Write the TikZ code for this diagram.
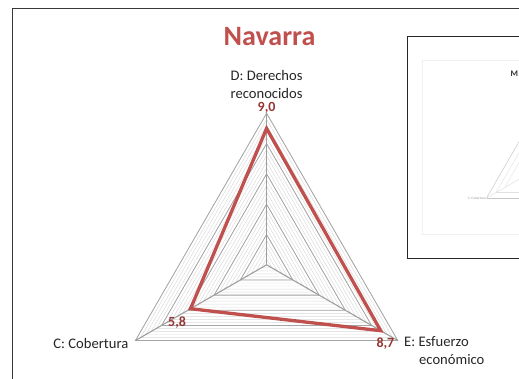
\documentclass[tikz,border=0pt]{standalone}
\usepackage{fontspec}
\setmainfont{Carlito}
\begin{document}
\begin{tikzpicture}[x=1pt,y=-1pt,
  minorgrid/.style={draw=black!15,line width=0.45pt},
  majorgrid/.style={draw=black!35,line width=0.8pt},
  spoke/.style={draw=black!38,line width=1.1pt},
  series/.style={draw=serred,line width=3.3pt,line join=miter},
  axlabel/.style={font=\fontsize{14.6}{18}\selectfont,text=txt,inner sep=0pt},
  vallabel/.style={font=\fontsize{14}{16}\selectfont\bfseries,text=valred,inner sep=0pt},
  frameline/.style={draw=black!78,line width=1.5pt}]
\definecolor{serred}{HTML}{C0504D}
\definecolor{valred}{HTML}{963634}
\definecolor{txt}{HTML}{262626}
\useasboundingbox (0,0) rectangle (519,378);
\clip (0,0) rectangle (519,378);
% outer frame
\coordinate (frTL) at (12.7,8.3);
\coordinate (frTR) at (530,8.3);
\coordinate (frBL) at (12.7,390);
\draw[frameline] (frBL) -- (frTL) -- (frTR);
% title
\node[font=\fontsize{28}{30}\selectfont\bfseries,text=serred,anchor=base,inner sep=0pt] (title) at (269.5,45) {Navarra};
% radar chart
\def\R{151.5}
\coordinate (O) at (266.6,264.8);
\foreach \k in {1,...,25} {
  \pgfmathsetmacro\r{\k*0.4*\R/10}
  \draw[minorgrid,shift={(O)}] (0,-\r) -- ({0.8660*\r},{0.5*\r}) -- ({-0.8660*\r},{0.5*\r}) -- cycle;
}
\foreach \k in {2,4,6,8,10} {
  \pgfmathsetmacro\r{\k*\R/10}
  \draw[majorgrid,shift={(O)}] (0,-\r) -- ({0.8660*\r},{0.5*\r}) -- ({-0.8660*\r},{0.5*\r}) -- cycle;
}
\path[shift={(O)}] (0,-\R) coordinate (D10) ({0.8660*\R},{0.5*\R}) coordinate (E10) ({-0.8660*\R},{0.5*\R}) coordinate (C10);
\draw[spoke] (O) -- (D10);
\draw[spoke] (O) -- (E10);
\draw[spoke] (O) -- (C10);
% data
\path[shift={(O)}] (0,{-0.90*\R}) coordinate (pD) ({0.8660*0.87*\R},{0.5*0.87*\R}) coordinate (pE) ({-0.8660*0.58*\R},{0.5*0.58*\R}) coordinate (pC);
\draw[series] (pD) -- (pE) -- (pC) -- cycle;
% labels
\node[axlabel,align=center,anchor=north] (labD) at (266.6,70.3) {D: Derechos\\reconocidos};
\node[axlabel,anchor=base east] (labC) at (128.5,348) {C: Cobertura};
\node[axlabel,align=left,anchor=north west] (labE) at (404,336.5) {E: Esfuerzo\\\hspace*{15pt}económico};
\node[vallabel,anchor=base] (valD) at (266.6,111.9) {9,0};
\node[vallabel,anchor=base west] (valC) at (168,326.7) {5,8};
\node[vallabel,anchor=base east] (valE) at (394.5,347.7) {8,7};
% inset thumbnail
\draw[draw=black!85,line width=1.4pt] (407.3,36.7) rectangle (540,258.3);
\draw[draw=black!6,line width=0.8pt] (422.7,60) rectangle (545,234);
\node[font=\fontsize{8.5}{10}\selectfont\bfseries,text=black!80,anchor=west,inner sep=0pt] (insT) at (510.5,73.5) {M};
\coordinate (insC) at (486.5,198);
\draw[draw=black!22,line width=0.5pt] (insC) -- (545,96.7);
\draw[draw=black!22,line width=0.5pt] (insC) -- (545,198);
\draw[draw=black!14,line width=0.4pt] (insC) -- (545,164.2);
\draw[draw=black!12,line width=0.4pt] (496,192.5) -- (545,108);
\draw[draw=black!12,line width=0.4pt] (505,187) -- (545,118);
\draw[draw=black!12,line width=0.4pt] (496,192.5) -- (545,192.5);
\node[font=\fontsize{3.5}{4}\selectfont,text=black!40,anchor=east,inner sep=0.5pt] (insL) at (insC) {C: Cobertura};
\end{tikzpicture}
\end{document}
